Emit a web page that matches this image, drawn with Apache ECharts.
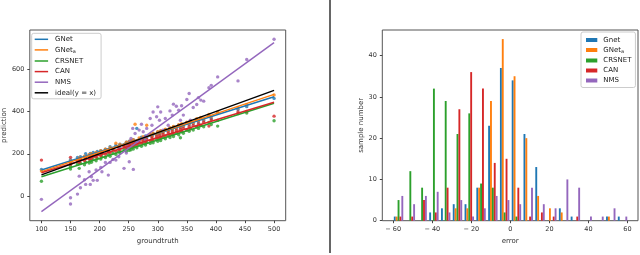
<!DOCTYPE html>
<html><head><meta charset="utf-8">
<script src="https://cdn.jsdelivr.net/npm/echarts@6/dist/echarts.min.js"></script>
<style>html,body{margin:0;padding:0;background:#fff}#c{width:640px;height:255px}</style>
</head><body><div id="c"></div>
<script>
// ---------- data: left panel (scatter + fitted lines) ----------
const groundtruth = [100,150,150,162,165,167,174,176,182,184,186,189,194,196,202,204,210,215,218,223,228,233,235,242,246,248,251,252,254,257,258,261,264,268,272,275,279,281,287,290,292,298,300,303,305,309,313,318,321,325,327,332,336,339,341,344,350,354,356,361,367,370,374,379,388,392,403,438,453,500];
const predGNet = [126,172,160,182,175,186,183,200,190,201,195,206,200,211,215,208,222,219,233,226,240,234,245,241,255,247,259,250,262,255,266,258,320,264,278,270,284,276,291,283,296,290,303,294,307,299,314,306,321,313,327,319,335,324,338,330,347,337,352,343,362,350,368,358,380,367,394,409,423,462];
const predGNetA = [118,158,166,168,180,172,188,180,196,187,200,192,206,199,214,205,221,216,229,224,250,233,244,240,255,246,258,250,262,254,266,340,261,275,268,281,274,335,292,284,297,291,304,297,309,301,316,309,323,316,329,322,337,329,342,333,350,342,355,348,366,356,372,364,386,376,398,418,432,478];
const predCRSNET = [70,128,140,150,131,155,148,160,156,168,160,172,167,178,175,186,182,196,188,203,197,211,203,220,212,225,216,228,219,233,222,236,228,242,235,248,241,253,249,262,252,268,259,273,263,278,271,286,277,292,282,298,290,276,306,297,314,306,319,312,329,320,335,328,348,338,331,390,393,356];
const predCAN = [170,183,150,168,160,172,168,179,175,186,178,190,184,196,191,203,198,212,205,219,212,227,219,235,228,240,232,243,235,247,238,250,243,256,250,262,255,267,262,275,266,281,272,286,277,291,284,298,290,304,295,310,302,316,306,320,314,328,318,334,328,341,334,349,331,360,358,398,400,378];
const predNMS = [-16,-8,-38,9,94,39,77,55,115,55,91,74,123,74,135,115,159,99,159,173,170,186,227,131,203,233,162,257,272,320,126,296,257,312,340,304,265,320,367,335,398,375,422,359,398,312,367,335,403,383,435,425,406,359,427,383,457,485,359,419,433,466,454,449,513,524,564,545,646,742];
const fitX = [100, 500];
const fitGNet = [123, 470];
const fitGNetA = [115, 481];
const fitCRSNET = [91, 439];
const fitCAN = [110, 444];
const fitNMS = [-74, 726];
const fitIdeal = [100, 500];
const leftXTicks = [100,150,200,250,300,350,400,450,500];
const leftYTicks = [0,200,400,600];

// ---------- data: right panel (error histogram) ----------
const binEdges = [-60.3,-54.26,-48.22,-42.18,-36.14,-30.1,-24.06,-18.02,-11.98,-5.94,0.1,6.14,12.18,18.22,24.26,30.3,36.34,42.38,48.42,54.46,60.5];
const histGnet   = [1,0,0,2,3,4,4,8,23,37,34,21,13,0,3,1,0,0,1,1];
const histGNetA  = [1,0,0,0,0,3,3,8,29,44,35,20,6,3,2,0,0,0,1,0];
const histCRSNET = [5,12,8,32,29,21,26,9,8,2,1,0,0,0,0,0,0,0,0,0];
const histCAN    = [1,1,5,2,8,27,36,32,14,15,8,1,2,1,0,1,0,0,0,0];
const histNMS    = [6,4,6,7,2,5,1,3,6,5,4,8,4,3,10,8,1,1,3,1];
const rightXTicks = [-60,-40,-20,0,20,40,60];
const rightYTicks = [0,10,20,30,40];

// ---------- names & styles ----------
const FONT = 'DejaVu Sans';
const COLORS = ['#1f77b4','#ff7f0e','#2ca02c','#d62728','#9467bd'];
const leftNames = ['GNet','GNet_a','CRSNET','CAN','NMS'];
const rightNames = ['Gnet','GNet_a','CRSNET','CAN','NMS'];
const preds = [predGNet, predGNetA, predCRSNET, predCAN, predNMS];
const fits = [fitGNet, fitGNetA, fitCRSNET, fitCAN, fitNMS];
const hists = [histGnet, histGNetA, histCRSNET, histCAN, histNMS];

function fmtName(n){
  n = n.replace(/^h:/,'');
  return n.replace('_a','{s|a}');
}

const series = [];
preds.forEach((p,i)=>{
  series.push({type:'scatter', name:'p:'+leftNames[i], xAxisIndex:0, yAxisIndex:0,
    symbolSize:3.4, itemStyle:{color:COLORS[i]}, z:2,
    data: groundtruth.map((g,k)=>[g,p[k]])});
});
fits.forEach((f,i)=>{
  series.push({type:'line', name:leftNames[i], xAxisIndex:0, yAxisIndex:0,
    showSymbol:false, symbol:'none', z:3, color:COLORS[i],
    itemStyle:{color:COLORS[i]}, lineStyle:{color:COLORS[i], width:1.4},
    data: fitX.map((x,k)=>[x,f[k]])});
});
series.push({type:'line', name:'ideal(y = x)', xAxisIndex:0, yAxisIndex:0,
  showSymbol:false, symbol:'none', z:4, color:'#000',
  itemStyle:{color:'#000'}, lineStyle:{color:'#000', width:1.4},
  data: fitX.map((x,k)=>[x,fitIdeal[k]])});

hists.forEach((h,i)=>{
  const data = [];
  for (let k=0;k<h.length;k++) if (h[k]>0) data.push([binEdges[k], binEdges[k+1], h[k]]);
  series.push({type:'custom', name:'h:'+rightNames[i], xAxisIndex:1, yAxisIndex:1,
    itemStyle:{color:COLORS[i]}, encode:{x:[0,1], y:2}, data,
    renderItem:(params, api)=>{
      const l=api.value(0), r=api.value(1), c=api.value(2), w=r-l;
      const x0 = l + w*(0.1+0.16*i), x1 = x0 + w*0.16;
      const p0 = api.coord([x0,c]), p1 = api.coord([x1,0]);
      return {type:'rect', shape:{x:p0[0], y:p0[1], width:p1[0]-p0[0], height:p1[1]-p0[1]},
        style:{fill:COLORS[i]}};
    }});
});

const tickStyle = {show:true, length:2.5, lineStyle:{color:'#444', width:1}};
const labelStyle = {fontSize:6.5, color:'#333', fontFamily:FONT};
const nameStyle = {fontSize:7, color:'#333', fontFamily:FONT};
const noLine = {show:false, onZero:false};
const legendText = {fontSize:7, color:'#222', fontFamily:FONT, lineHeight:8,
  rich:{s:{fontSize:5, fontFamily:FONT, color:'#222', padding:[4,0,0,0]}}};

const option = {
  animation:false,
  backgroundColor:'#fff',
  grid:[
    {left:29.3, top:30, width:256.4, height:190.7, show:true, borderColor:'#555', borderWidth:1, backgroundColor:'transparent'},
    {left:382.3, top:30, width:255.7, height:190.7, show:true, borderColor:'#555', borderWidth:1, backgroundColor:'transparent'}
  ],
  xAxis:[
    {type:'value', gridIndex:0, position:'bottom', min:80, max:520, splitLine:{show:false}, axisLine:noLine,
     axisTick:Object.assign({customValues:leftXTicks}, tickStyle),
     axisLabel:Object.assign({customValues:leftXTicks, margin:5}, labelStyle),
     name:'groundtruth', nameLocation:'middle', nameGap:15, nameTextStyle:nameStyle},
    {type:'value', gridIndex:1, position:'bottom', min:-65.6, max:65.4, splitLine:{show:false}, axisLine:noLine,
     axisTick:Object.assign({customValues:rightXTicks}, tickStyle),
     axisLabel:Object.assign({customValues:rightXTicks, margin:5,
       formatter:v=> v<0 ? '\u2212 '+(-v) : String(v)}, labelStyle),
     name:'error', nameLocation:'middle', nameGap:14.5, nameTextStyle:nameStyle}
  ],
  yAxis:[
    {type:'value', gridIndex:0, position:'left', min:-117, max:786, splitLine:{show:false}, axisLine:noLine,
     axisTick:Object.assign({customValues:leftYTicks}, tickStyle),
     axisLabel:Object.assign({customValues:leftYTicks, margin:5.5}, labelStyle),
     name:'prediction', nameLocation:'middle', nameGap:21.5, nameTextStyle:nameStyle},
    {type:'value', gridIndex:1, position:'left', min:0, max:46.2, splitLine:{show:false}, axisLine:noLine,
     axisTick:Object.assign({customValues:rightYTicks}, tickStyle),
     axisLabel:Object.assign({customValues:rightYTicks, margin:5.5}, labelStyle),
     name:'sample number', nameLocation:'middle', nameGap:17.5, nameTextStyle:nameStyle}
  ],
  legend:[
    {orient:'vertical', left:31.7, top:33.3, selectedMode:false,
     data: leftNames.concat(['ideal(y = x)']), icon:'rect', itemWidth:13.4, itemHeight:1.5, itemGap:2.6,
     padding:[2,5,2,3], borderColor:'#ccc', borderWidth:1, borderRadius:2,
     backgroundColor:'rgba(255,255,255,0.8)', textStyle:Object.assign({padding:[0,0,0,2]}, legendText),
     formatter:fmtName},
    {orient:'vertical', left:581, top:32, selectedMode:false,
     data: rightNames.map(n=>'h:'+n), icon:'rect', itemWidth:11.3, itemHeight:4, itemGap:2,
     padding:[4,4,3,5], borderColor:'#ccc', borderWidth:1, borderRadius:2,
     backgroundColor:'rgba(255,255,255,0.8)', textStyle:Object.assign({padding:[0,0,0,1]}, legendText),
     formatter:fmtName}
  ],
  graphic:[
    {type:'line', shape:{x1:330, y1:0, x2:330, y2:253}, style:{stroke:'#333', lineWidth:1.5}, silent:true}
  ],
  series
};

const chart = echarts.init(document.getElementById('c'), null, {renderer:'canvas'});
chart.setOption(option);
</script></body></html>
